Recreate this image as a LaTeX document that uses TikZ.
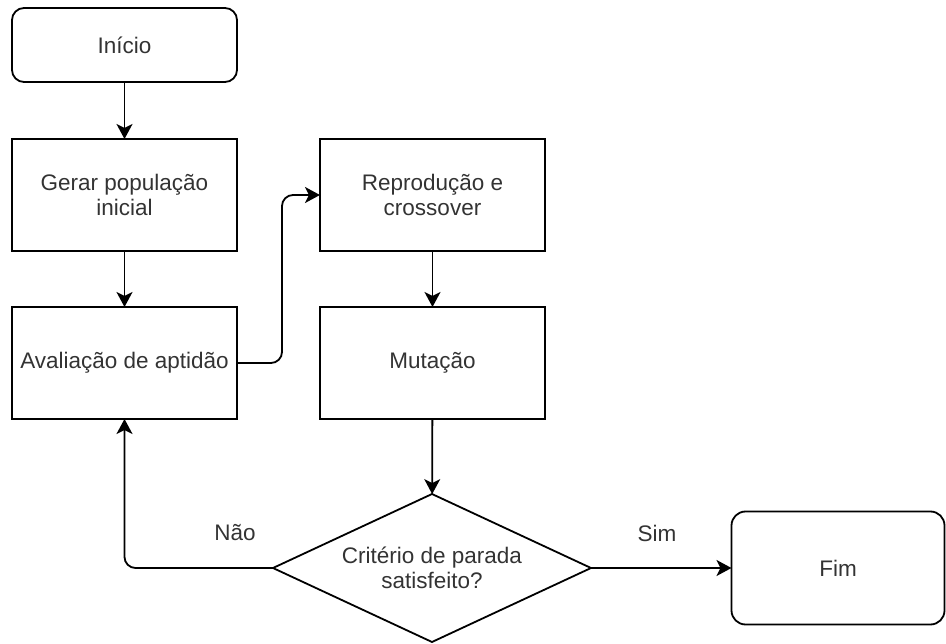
\documentclass[tikz,border=0pt]{standalone}
\usepackage{fontspec}
\setmainfont{Liberation Sans}
\usetikzlibrary{shapes.geometric,arrows.meta}
\definecolor{txt}{HTML}{333333}
\begin{document}
\begin{tikzpicture}[x=1pt,y=-1pt,
  box/.style={draw=black,line width=1.8pt,minimum width=225pt,minimum height=112pt,inner sep=2pt,outer sep=0pt,align=center,text=txt,font=\fontsize{22.5}{24.5}\selectfont},
  term/.style={box,rounded corners=12pt,minimum height=74pt},
  dec/.style={draw=black,line width=1.8pt,shape=diamond,aspect=2.15,minimum width=318pt,minimum height=148pt,inner sep=0pt,outer sep=0pt,align=center,text=txt,font=\fontsize{22.5}{24.5}\selectfont},
  conn/.style={draw=black,line width=1.8pt,-{Stealth[length=15pt,width=16pt,inset=4pt]}},
  lbl/.style={text=txt,font=\fontsize{22.5}{24.5}\selectfont,inner sep=0pt}]
\useasboundingbox (0,0) rectangle (946,644);
\node[term] (inicio) at (124.5,45) {Início};
\node[box] (gerar) at (124.5,195) {Gerar população\\inicial};
\node[box] (aval) at (124.5,363) {Avaliação de aptidão};
\node[box] (repro) at (432.5,195) {Reprodução e\\crossover};
\node[box] (mut) at (432.5,363) {Mutação};
\node[dec] (crit) at (432,568) {Critério de parada\\satisfeito?};
\node[term,minimum width=213pt,minimum height=113pt,rounded corners=14pt] (fim) at (838,568) {Fim};
\node[lbl] (nao) at (235,533) {Não};
\node[lbl] (sim) at (657,533) {Sim};
\draw[conn] (inicio) -- (gerar);
\draw[conn] (gerar) -- (aval);
\draw[conn,rounded corners=11pt] (aval.east) -| (282,282) |- (repro.west);
\draw[conn] (repro) -- (mut);
\draw[conn] (mut) -- (crit);
\draw[conn,rounded corners=11pt] (crit.west) -| (aval.south);
\draw[conn] (crit.east) -- (fim.west);
\end{tikzpicture}
\end{document}
